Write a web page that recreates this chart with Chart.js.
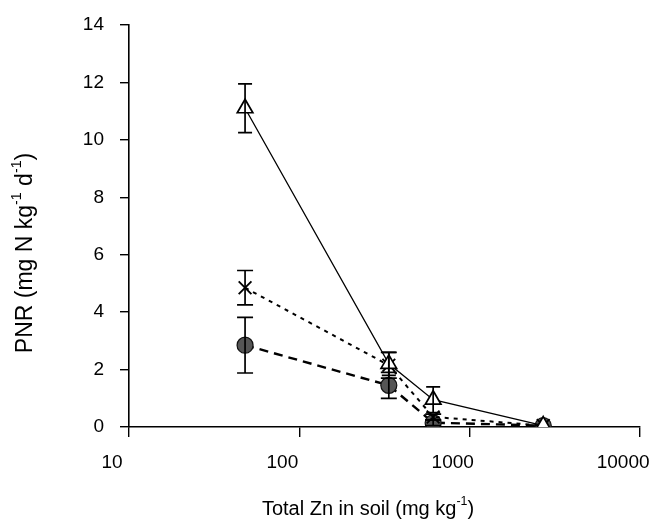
<!DOCTYPE html>
<html>
<head>
<meta charset="utf-8">
<script src="https://cdn.jsdelivr.net/npm/chart.js@4.4.1/dist/chart.umd.min.js"></script>
<style>
html,body{margin:0;padding:0;background:#fff;}
#wrap{width:651px;height:524px;}
</style>
</head>
<body>
<div id="wrap"><canvas id="c" width="651" height="524"></canvas></div>
<script>
// ---- data ----
const zn = [48, 335, 610, 2700];
const triVals = [11.1, 2.2, 0.95, 0.05];
const triErr = [0.85, 0.4, 0.45, 0];
const crossVals = [4.85, 2.15, 0.35, 0.05];
const crossErr = [0.6, 0.45, 0.1, 0];
const circVals = [2.85, 1.45, 0.15, 0.05];
const circErr = [0.97, 0.45, 0.1, 0];
const xTickVals = [10, 100, 1000, 10000];
const yTickVals = [0, 2, 4, 6, 8, 10, 12, 14];
const xTitle = [{t:'Total Zn in soil (mg kg'},{t:'-1',sup:true},{t:')'}];
const yTitle = [{t:'PNR (mg N kg'},{t:'-1',sup:true},{t:' d'},{t:'-1',sup:true},{t:')'}];

const FONT = '"Liberation Sans", Arial, sans-serif';

function pts(vals){ return vals.map((v,i)=>({x:zn[i], y:v})); }

function drawRich(ctx, segs, size){
  let w = 0;
  const sub = size*0.62;
  segs.forEach(s=>{ ctx.font = (s.sup?sub:size)+'px '+FONT; s.w = ctx.measureText(s.t).width; w += s.w; });
  let x = -w/2;
  segs.forEach(s=>{
    ctx.font = (s.sup?sub:size)+'px '+FONT;
    ctx.fillText(s.t, x, s.sup ? -size*0.38 : 0);
    x += s.w;
  });
}

const errPlugin = {
  id:'errbars',
  afterDatasetsDraw(chart){
    const ctx = chart.ctx, xs = chart.scales.x, ys = chart.scales.y;
    ctx.save();
    ctx.strokeStyle = '#000'; ctx.lineWidth = 1.7; ctx.setLineDash([]);
    chart.data.datasets.forEach(ds=>{
      if(!ds.err) return;
      const cw = ds.capHalf || 7;
      ds.data.forEach((p,i)=>{
        const e = ds.err[i]; if(!e) return;
        const px = xs.getPixelForValue(p.x);
        const y1 = ys.getPixelForValue(p.y+e), y2 = ys.getPixelForValue(p.y-e);
        ctx.beginPath();
        ctx.moveTo(px,y1); ctx.lineTo(px,y2);
        ctx.moveTo(px-cw,y1); ctx.lineTo(px+cw,y1);
        ctx.moveTo(px-cw,y2); ctx.lineTo(px+cw,y2);
        ctx.stroke();
      });
    });
    ctx.restore();
  }
};

const titlePlugin = {
  id:'titles',
  afterDraw(chart){
    const ctx = chart.ctx;
    ctx.save();
    ctx.fillStyle = '#000'; ctx.textBaseline = 'middle'; ctx.textAlign = 'left';
    ctx.translate(368, 509);
    drawRich(ctx, xTitle, 20);
    ctx.restore();
    ctx.save();
    ctx.fillStyle = '#000'; ctx.textBaseline = 'middle'; ctx.textAlign = 'left';
    ctx.translate(26, 253);
    ctx.rotate(-Math.PI/2);
    drawRich(ctx, yTitle, 23);
    ctx.restore();
  }
};

new Chart(document.getElementById('c'), {
  type:'scatter',
  data:{
    datasets:[
      {label:'A', data:pts(triVals), err:triErr, capHalf:7, showLine:true, borderColor:'#000', borderWidth:1.3,
       pointStyle:'triangle', pointRadius:9, pointBorderWidth:1.7, pointBackgroundColor:'#fff', pointBorderColor:'#000'},
      {label:'B', data:pts(crossVals), err:crossErr, capHalf:8, showLine:true, borderColor:'#000', borderWidth:2, borderDash:[4,5],
       pointStyle:'crossRot', pointRadius:9, pointBorderWidth:1.9, pointBorderColor:'#000'},
      {label:'C', data:pts(circVals), err:circErr, capHalf:8, showLine:true, borderColor:'#000', borderWidth:2.4, borderDash:[9,6],
       pointStyle:'circle', pointRadius:8, pointBorderWidth:1.2, pointBackgroundColor:'#555', pointBorderColor:'#111'}
    ]
  },
  options:{
    responsive:false, animation:false, devicePixelRatio:1,
    layout:{padding:{top:25, right:9, left:0, bottom:0}},
    plugins:{legend:{display:false}, tooltip:{enabled:false}},
    elements:{line:{tension:0}},
    scales:{
      x:{type:'logarithmic', min:10, max:10000,
        afterBuildTicks(s){ s.ticks = xTickVals.map(v=>({value:v})); },
        afterFit(s){ s.height = 97; s.paddingLeft = 0; s.paddingRight = 0; },
        grid:{drawOnChartArea:false, drawTicks:true, tickLength:10, color:'#000', lineWidth:1.4},
        border:{display:true, color:'#000', width:1.6},
        ticks:{color:'#000', font:{size:19, family:FONT}, padding:14, labelOffset:-17, maxRotation:0,
          callback:(v)=>String(v)}
      },
      y:{type:'linear', min:0, max:14,
        afterBuildTicks(s){ s.ticks = yTickVals.map(v=>({value:v})); },
        afterFit(s){ s.width = 129; s.paddingTop = 0; s.paddingBottom = 0; },
        grid:{drawOnChartArea:false, drawTicks:true, tickLength:9, color:'#000', lineWidth:1.4},
        border:{display:true, color:'#000', width:1.6},
        ticks:{color:'#000', font:{size:19, family:FONT}, padding:16, callback:(v)=>String(v)}
      }
    }
  },
  plugins:[errPlugin, titlePlugin]
});
</script>
</body>
</html>
